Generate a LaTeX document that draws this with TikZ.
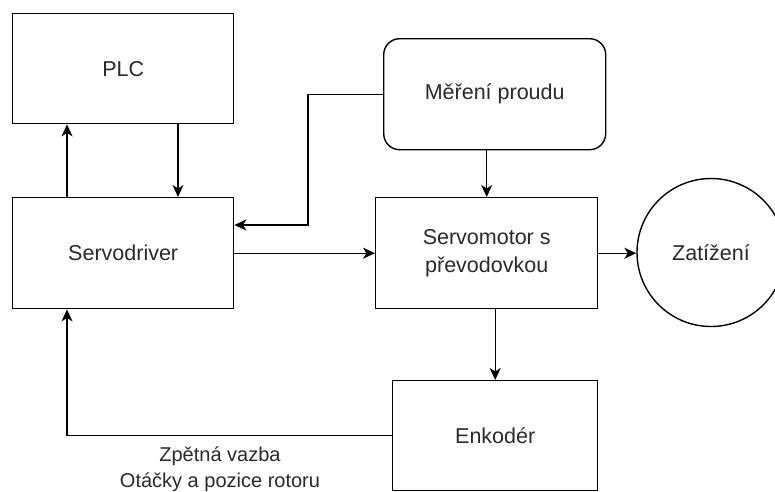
\documentclass[tikz,border=0pt]{standalone}
\usepackage{fontspec}
\setmainfont{Liberation Sans}
\usetikzlibrary{arrows.meta,calc}
\definecolor{txt}{HTML}{2A2A2A}
\begin{document}
\begin{tikzpicture}[x=1pt,y=-1pt,
  block/.style={draw=black,line width=1.4pt,fill=white,anchor=north west,
    inner sep=0pt,text=txt,align=center,
    font=\fontsize{21.5}{28}\selectfont},
  conn/.style={draw=black,line width=1.4pt,
    -{Stealth[length=12pt,width=11pt,inset=3.5pt]}},
  note/.style={text=txt,font=\fontsize{20}{26}\selectfont,inner sep=0pt}]
  \useasboundingbox[fill=white] (0,0) rectangle (775,491);
  \begin{scope}
  \clip (0,0) rectangle (775,491);
  % blocks
  \node[block,minimum width=221pt,minimum height=110pt] (plc) at (12,13) {PLC};
  \node[block,minimum width=221pt,minimum height=111pt] (drv) at (12,197) {Servodriver};
  \node[block,rounded corners=16pt,minimum width=222pt,minimum height=111pt] (cur) at (383,38) {Měření proudu};
  \node[block,minimum width=222pt,minimum height=111pt] (mot) at (375,197) {Servomotor s\\převodovkou};
  \node[block,minimum width=205pt,minimum height=110pt] (enc) at (392,380) {Enkodér};
  \node[draw=black,line width=1.4pt,circle,minimum size=148pt,inner sep=0pt,
        text=txt,font=\fontsize{21.5}{28}\selectfont] (load) at (711,252.5) {Zatížení};
  % helper positions for the vertical runs
  \coordinate (xa) at (67,0);
  \coordinate (xb) at (178,0);
  \coordinate (xc) at (308,0);
  \coordinate (yc) at (0,225);
  % connectors
  \draw[conn] (drv.north -| xa) -- (plc.south -| xa);
  \draw[conn] (plc.south -| xb) -- (drv.north -| xb);
  \draw[conn] (cur.west) -- (cur.west -| xc) -- (xc |- yc) -- (drv.east |- yc);
  \draw[conn] (drv.east) -- (mot.west);
  \draw[conn] (cur.south -| mot.north) -- (mot.north);
  \draw[conn] (mot.east) -- (mot.east -| load.west);
  \draw[conn] (mot.south -| enc.north) -- (enc.north);
  \draw[conn] (enc.west) -- (enc.west -| xa) -- (drv.south -| xa);
  % feedback label
  \node[note] (fb1) at (220,456) {Zpětná vazba};
  \node[note] (fb2) at (220,482) {Otáčky a pozice rotoru};
  \end{scope}
\end{tikzpicture}
\end{document}
